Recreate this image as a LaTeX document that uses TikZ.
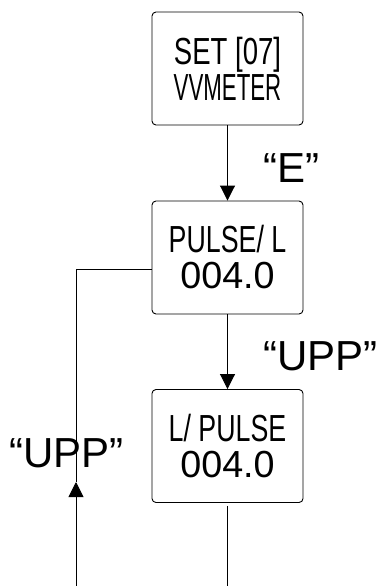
\documentclass[tikz,border=0pt]{standalone}
\usepackage{fontspec}
\usepackage{graphicx}
\setmainfont{Liberation Sans}
\usetikzlibrary{arrows.meta}
\newcommand{\narrowtext}[2]{\scalebox{#1}[1]{#2}}
\begin{document}
\begin{tikzpicture}[x=1pt,y=1pt,
    menubox/.style ={draw, line width=0.9pt, rounded corners=4pt,
      minimum width=151pt, minimum height=113pt, align=center, inner sep=0pt,
      font=\fontsize{37.7}{36}\selectfont},
    keylabel/.style ={anchor=base west, inner sep=0pt,
      font=\fontsize{42}{42}\selectfont},
    flow/.style ={line width=0.9pt},
    flowarrow/.style ={line width=0.9pt, -{Triangle[length=15pt,width=15pt]}}]
   \useasboundingbox (0,0) rectangle (380,-586);
   \node[menubox] (set) at (227.5,-68.5)
     {\narrowtext{0.73}{SET [07]}\\\narrowtext{0.59}{VVMETER}};
   \node[menubox] (pulsel) at (227.5,-257.5)
     {\narrowtext{0.71}{PULSE/ L}\\004.0};
   \node[menubox] (lpulse) at (227.5,-446)
     {\narrowtext{0.71}{L/ PULSE}\\004.0};
   \coordinate (exitbot) at (227.5,-586);
   \coordinate (loopbot) at (76,-586);
   \coordinate (looptip) at (76,-482);
   \coordinate (loopcorner) at (76,-269);
   \draw[flowarrow] (set) to (pulsel);
   \draw[flowarrow] (pulsel) to (lpulse);
   \draw[flow] ([yshift=-3pt]lpulse.south) to (exitbot);
   \draw[flowarrow] (loopbot) to (looptip);
   \draw[flow] (looptip) -- (loopcorner) -- ([yshift=-11.5pt]pulsel.west);
   \node[keylabel] (keye) at (263,-182) {“E”};
   \node[keylabel] (keyupp) at (263,-370) {“UPP”};
   \node[keylabel] (keyloop) at (9,-467) {“UPP”};
 \end{tikzpicture}
\end{document}
